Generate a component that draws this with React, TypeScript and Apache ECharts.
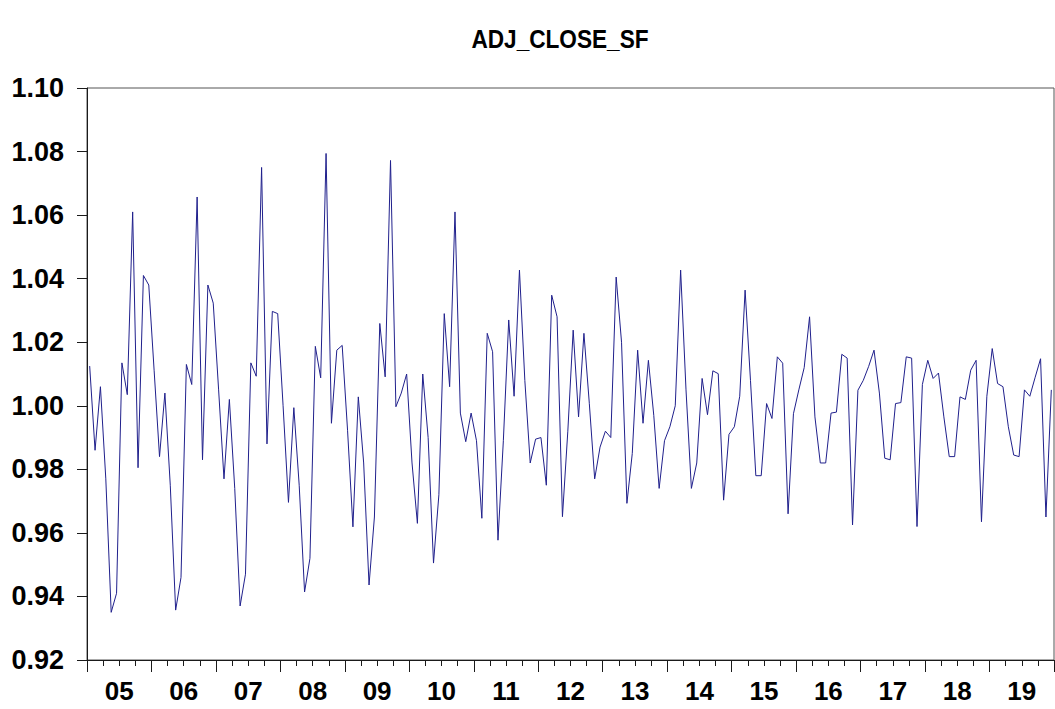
import { useEffect, useRef } from 'react';
import * as echarts from 'echarts';

const chartTitle = 'ADJ_CLOSE_SF';
const yearLabels = ['05', '06', '07', '08', '09', '10', '11', '12', '13', '14', '15', '16', '17', '18', '19'];
const yMin = 0.92;
const yMax = 1.10;
const yStep = 0.02;

const sf2005 = [1.0125, 0.986, 1.006, 0.977, 0.935, 0.941, 1.0135, 1.0035, 1.061, 0.9805, 1.041, 1.038];
const sf2006 = [1.011, 0.984, 1.004, 0.975, 0.9357, 0.946, 1.013, 1.0067, 1.0657, 0.983, 1.038, 1.0323];
const sf2007 = [1.005, 0.977, 1.002, 0.974, 0.937, 0.947, 1.0135, 1.0093, 1.075, 0.988, 1.0297, 1.029];
const sf2008 = [1.0, 0.9696, 0.9994, 0.975, 0.9414, 0.952, 1.0187, 1.0088, 1.0794, 0.9945, 1.0175, 1.019];
const sf2009 = [0.9923, 0.9619, 1.0028, 0.982, 0.9436, 0.965, 1.0259, 1.0091, 1.0772, 0.9997, 1.004, 1.01];
const sf2010 = [0.982, 0.963, 1.01, 0.99, 0.9505, 0.972, 1.029, 1.006, 1.061, 0.9977, 0.9887, 0.9977];
const sf2011 = [0.989, 0.9646, 1.0228, 1.017, 0.9577, 0.989, 1.027, 1.003, 1.0427, 1.008, 0.982, 0.9895];
const sf2012 = [0.99, 0.975, 1.0348, 1.028, 0.9651, 0.992, 1.0238, 0.9965, 1.0228, 1.0008, 0.977, 0.987];
const sf2013 = [0.992, 0.99, 1.0405, 1.02, 0.9693, 0.985, 1.0175, 0.9945, 1.0143, 0.997, 0.974, 0.989];
const sf2014 = [0.9934, 1.0, 1.0427, 1.005, 0.974, 0.982, 1.0086, 0.9972, 1.011, 1.0101, 0.9703, 0.991];
const sf2015 = [0.9934, 1.003, 1.0364, 1.008, 0.978, 0.978, 1.0007, 0.996, 1.0154, 1.0134, 0.966, 0.9975];
const sf2016 = [1.005, 1.012, 1.028, 0.9965, 0.982, 0.982, 0.9977, 0.998, 1.0162, 1.015, 0.9625, 1.0049];
const sf2017 = [1.008, 1.0124, 1.0175, 1.004, 0.9835, 0.983, 1.0007, 1.001, 1.0154, 1.015, 0.962, 1.0067];
const sf2018 = [1.0143, 1.0086, 1.0103, 0.9965, 0.984, 0.984, 1.0028, 1.002, 1.0112, 1.0143, 0.9635, 1.003];
const sf2019 = [1.018, 1.007, 1.006, 0.9934, 0.9845, 0.984, 1.005, 1.003, 1.009, 1.0148, 0.965, 1.005];

const seriesValues = [
  ...sf2005, ...sf2006, ...sf2007, ...sf2008, ...sf2009,
  ...sf2010, ...sf2011, ...sf2012, ...sf2013, ...sf2014,
  ...sf2015, ...sf2016, ...sf2017, ...sf2018, ...sf2019,
];

const monthCategories = yearLabels.flatMap((y) =>
  Array.from({ length: 12 }, (_, m) => `20${y}-${String(m + 1).padStart(2, '0')}`)
);

const FONT = 'Arial, "Liberation Sans", sans-serif';
const AXIS_COLOR = '#1a1a1a';

export default function App() {
  const ref = useRef<HTMLDivElement>(null);

  useEffect(() => {
    if (!ref.current) return;
    const chart = echarts.init(ref.current, null, { renderer: 'svg' });
    chart.setOption({
      animation: false,
      backgroundColor: '#ffffff',
      graphic: [
        {
          type: 'text',
          x: 560,
          y: 39,
          scaleX: 0.87,
          scaleY: 1,
          silent: true,
          style: {
            text: chartTitle,
            font: `bold 26px ${FONT}`,
            fill: '#000000',
            align: 'center',
            verticalAlign: 'middle',
          },
        },
      ],
      grid: {
        left: 87,
        right: 1,
        top: 88,
        bottom: 49,
        show: true,
        borderColor: '#555555',
        borderWidth: 1,
        containLabel: false,
      },
      xAxis: [
        {
          type: 'category',
          position: 'bottom',
          data: monthCategories,
          boundaryGap: true,
          axisLine: { show: true, lineStyle: { color: AXIS_COLOR, width: 1 } },
          axisTick: { show: true, interval: 2, length: 6, lineStyle: { color: AXIS_COLOR } },
          axisLabel: { show: false },
          splitLine: { show: false },
        },
        {
          type: 'category',
          position: 'bottom',
          data: yearLabels,
          boundaryGap: true,
          axisLine: { show: false },
          axisTick: { show: true, interval: 0, length: 12, lineStyle: { color: AXIS_COLOR } },
          axisLabel: {
            show: true,
            interval: 0,
            margin: 18,
            fontFamily: FONT,
            fontWeight: 'bold',
            fontSize: 26,
            color: '#000000',
          },
          splitLine: { show: false },
        },
      ],
      yAxis: {
        type: 'value',
        min: yMin,
        max: yMax,
        interval: yStep,
        axisLine: { show: true, lineStyle: { color: AXIS_COLOR, width: 1 } },
        axisTick: { show: true, length: 10, lineStyle: { color: AXIS_COLOR } },
        axisLabel: {
          margin: 23,
          fontFamily: FONT,
          fontWeight: 'bold',
          fontSize: 27,
          color: '#000000',
          formatter: (v: number) => v.toFixed(2),
        },
        splitLine: { show: false },
      },
      series: [
        {
          type: 'line',
          name: chartTitle,
          xAxisIndex: 0,
          yAxisIndex: 0,
          data: seriesValues,
          symbol: 'none',
          showSymbol: false,
          lineStyle: { color: '#20208c', width: 1 },
        },
      ],
    });
    return () => chart.dispose();
  }, []);

  return (
    <div
      ref={ref}
      style={{ position: 'fixed', left: 0, top: 0, width: 1055, height: 709, background: '#ffffff' }}
    />
  );
}
